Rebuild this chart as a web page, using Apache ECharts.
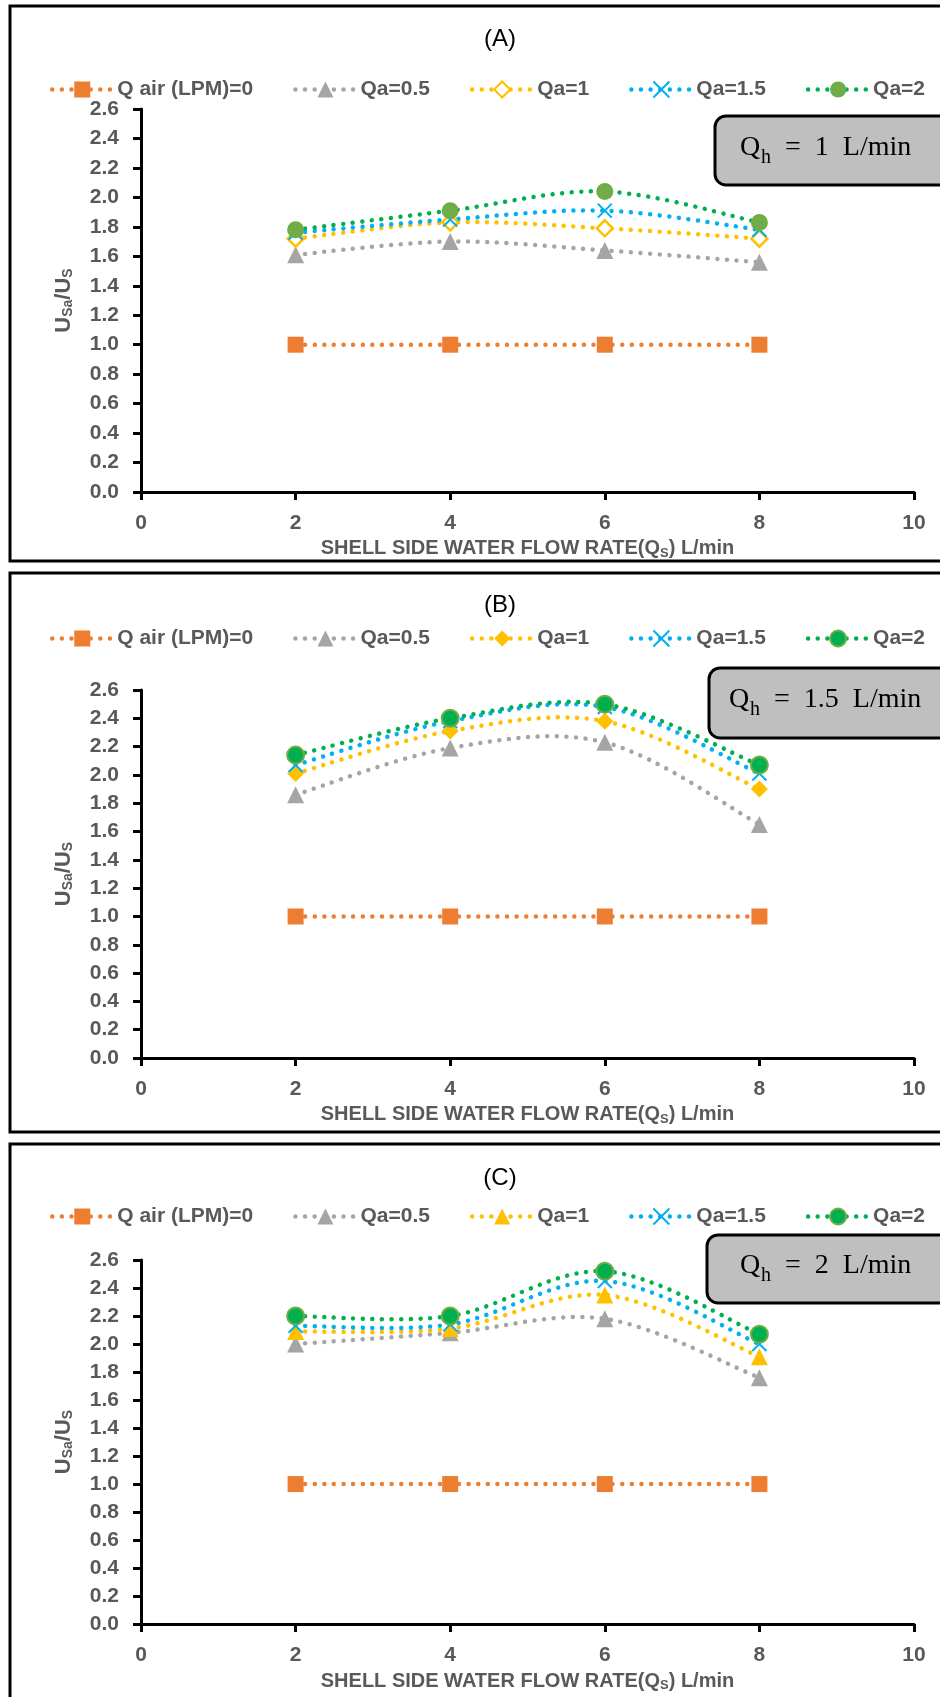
<!DOCTYPE html>
<html><head><meta charset="utf-8">
<script src="https://cdn.jsdelivr.net/npm/echarts@6/dist/echarts.min.js"></script>
<style>
html,body{margin:0;padding:0;background:#fff;width:940px;height:1697px;overflow:hidden}
.p{position:absolute;left:0;width:940px}
</style></head><body>
<div id="pa" class="p" style="top:0;height:567px"></div>
<div id="pb" class="p" style="top:567px;height:571px"></div>
<div id="pc" class="p" style="top:1138px;height:559px"></div>
<script>
// ---------- data ----------
const xValues = [2, 4, 6, 8];
const seriesNames = ['Q air (LPM)=0', 'Qa=0.5', 'Qa=1', 'Qa=1.5', 'Qa=2'];
const panelLabels = ['(A)', '(B)', '(C)'];
const boxLabels = ['1', '1.5', '2'];
const xAxisRange = [0, 10, 2];      // min, max, interval
const yAxisRange = [0, 2.6, 0.2];   // min, max, interval

// Panel A : Qh = 1 L/min
const qa0_A  = [1.00, 1.00, 1.00, 1.00];
const qa05_A = [1.61, 1.70, 1.64, 1.56];
const qa1_A  = [1.72, 1.83, 1.79, 1.72];
const qa15_A = [1.76, 1.85, 1.91, 1.78];
const qa2_A  = [1.78, 1.91, 2.04, 1.83];
// Panel B : Qh = 1.5 L/min
const qa0_B  = [1.00, 1.00, 1.00, 1.00];
const qa05_B = [1.86, 2.19, 2.23, 1.65];
const qa1_B  = [2.01, 2.31, 2.38, 1.90];
const qa15_B = [2.07, 2.38, 2.48, 2.01];
const qa2_B  = [2.14, 2.40, 2.50, 2.07];
// Panel C : Qh = 2 L/min
const qa0_C  = [1.00, 1.00, 1.00, 1.00];
const qa05_C = [2.00, 2.08, 2.18, 1.76];
const qa1_C  = [2.09, 2.11, 2.35, 1.91];
const qa15_C = [2.13, 2.14, 2.45, 2.00];
const qa2_C  = [2.20, 2.20, 2.52, 2.07];

// ---------- styling ----------
const FONT = '"Liberation Sans", Arial, sans-serif';
const SERIF = '"Liberation Serif", "DejaVu Serif", serif';
const GRAY_TXT = '#595959';
const C_OR = '#ED7D31', C_GR = '#A5A5A5', C_YE = '#FFC000', C_BL = '#00B0F0', C_GN = '#00B050', C_GN2 = '#70AD47';
const X_PATH = 'path://M0,0L10,10M10,0L0,10';
const LINE_W = 4.5, DASH = [0.01, 9.6];

// marker series (line itself hidden; the smoothed curve is drawn by a custom series)
function mk(name, vals, color, symbol, size, itemStyle) {
  return {
    name: name, type: 'line',
    data: xValues.map((x, i) => [x, vals[i]]),
    symbol: symbol, symbolSize: size, showSymbol: true,
    lineStyle: { color: color, width: LINE_W, type: DASH, cap: 'round', opacity: 0 },
    itemStyle: itemStyle,
    emphasis: { disabled: true },
    z: 3
  };
}

// Excel-like smoothed (Catmull-Rom) curve through the data points, positioned by the axes
function curve(vals, color) {
  const pts = xValues.map((x, i) => [x, vals[i]]);
  return {
    type: 'custom', silent: true, z: 2, clip: false,
    data: pts, encode: { x: 0, y: 1 },
    renderItem: function (params, api) {
      if (params.dataIndex !== 0) return null;
      const P = pts.map(p => api.coord(p));
      const n = P.length;
      let d = 'M' + P[0][0] + ',' + P[0][1];
      for (let i = 0; i < n - 1; i++) {
        const p0 = P[Math.max(i - 1, 0)], p1 = P[i], p2 = P[i + 1], p3 = P[Math.min(i + 2, n - 1)];
        const c1 = [p1[0] + (p2[0] - p0[0]) / 6, p1[1] + (p2[1] - p0[1]) / 6];
        const c2 = [p2[0] - (p3[0] - p1[0]) / 6, p2[1] - (p3[1] - p1[1]) / 6];
        d += ' C' + c1[0] + ',' + c1[1] + ' ' + c2[0] + ',' + c2[1] + ' ' + p2[0] + ',' + p2[1];
      }
      return {
        type: 'path', shape: { pathData: d },
        style: { fill: 'none', stroke: color, lineWidth: LINE_W, lineDash: DASH, lineCap: 'round' }
      };
    }
  };
}

function buildOption(p) {
  const cy = p.boxY + p.boxH / 2;
  return {
    animation: false,
    backgroundColor: 'transparent',
    legend: {
      data: seriesNames, left: 45, top: p.legendTop, width: 893,
      itemWidth: 60, itemHeight: 20, itemGap: 40,
      lineStyle: { opacity: 1, width: LINE_W, cap: 'round' },
      textStyle: { fontSize: 21, fontWeight: 'bold', color: GRAY_TXT, fontFamily: FONT },
      selectedMode: false
    },
    grid: { left: 141, right: 26, top: p.gridTop, bottom: p.gridBottom, containLabel: false },
    xAxis: {
      type: 'value', min: xAxisRange[0], max: xAxisRange[1], interval: xAxisRange[2],
      axisLine: { show: true, lineStyle: { color: '#000', width: 3 } },
      axisTick: { show: true, inside: false, length: 8, lineStyle: { color: '#000', width: 3 } },
      splitLine: { show: false },
      axisLabel: { fontSize: 21, fontWeight: 'bold', color: GRAY_TXT, fontFamily: FONT, margin: 21 },
      name: '{a|SHELL SIDE WATER FLOW RATE(Q}{b|S}{a|) L/min}',
      nameLocation: 'middle', nameGap: p.xNameGap,
      nameTextStyle: {
        rich: {
          a: { fontSize: 20, fontWeight: 'bold', color: GRAY_TXT, fontFamily: FONT, lineHeight: 22 },
          b: { fontSize: 13, fontWeight: 'bold', color: GRAY_TXT, fontFamily: FONT, lineHeight: 6, verticalAlign: 'bottom' }
        }
      }
    },
    yAxis: {
      type: 'value', min: yAxisRange[0], max: yAxisRange[1], interval: yAxisRange[2],
      axisLine: { show: true, lineStyle: { color: '#000', width: 3 } },
      axisTick: { show: true, inside: false, length: 8, lineStyle: { color: '#000', width: 3 } },
      splitLine: { show: false },
      axisLabel: { fontSize: 21, fontWeight: 'bold', color: GRAY_TXT, fontFamily: FONT, margin: 22,
        formatter: v => v.toFixed(1) },
      name: '{a|U}{b|Sa}{a|/U}{b|S}',
      nameLocation: 'middle', nameGap: 66, nameRotate: 90,
      nameTextStyle: {
        rich: {
          a: { fontSize: 22, fontWeight: 'bold', color: GRAY_TXT, fontFamily: FONT, lineHeight: 22 },
          b: { fontSize: 14, fontWeight: 'bold', color: GRAY_TXT, fontFamily: FONT, lineHeight: 6, verticalAlign: 'bottom' }
        }
      }
    },
    graphic: [
      { type: 'rect', silent: true, z: 0,
        shape: { x: 10, y: 6, width: 980, height: p.borderH },
        style: { fill: 'none', stroke: '#000', lineWidth: 3 } },
      { type: 'text', silent: true, x: 500, y: p.titleY,
        style: { text: p.label, fontSize: 24, fontFamily: FONT, fill: '#000', align: 'center', verticalAlign: 'middle' } },
      { type: 'rect', silent: true, z: 10,
        shape: { x: p.boxX, y: p.boxY, width: 300, height: p.boxH, r: 11 },
        style: { fill: '#BFBFBF', stroke: '#000', lineWidth: 3 } },
      { type: 'text', silent: true, z: 11, x: p.boxTextL, y: cy - 3,
        style: { text: 'Q', fontSize: 28, fontFamily: SERIF, fill: '#000', align: 'left', verticalAlign: 'middle' } },
      { type: 'text', silent: true, z: 11, x: p.boxTextL + 21, y: cy + 7,
        style: { text: 'h', fontSize: 20, fontFamily: SERIF, fill: '#000', align: 'left', verticalAlign: 'middle' } },
      { type: 'text', silent: true, z: 11, x: p.boxTextL + 45, y: cy - 3,
        style: { text: '=  ' + p.box + '  L/min', fontSize: 28, fontFamily: SERIF, fill: '#000', align: 'left', verticalAlign: 'middle' } }
    ],
    series: p.series
  };
}

function seriesSet(d, variant) {
  const colors = [C_OR, C_GR, C_YE, C_BL, C_GN];
  const s = [];
  s.push(mk(seriesNames[0], d[0], C_OR, 'rect', 16, { color: C_OR }));
  s.push(mk(seriesNames[1], d[1], C_GR, 'triangle', 17, { color: C_GR }));
  if (variant === 'A') {
    s.push(mk(seriesNames[2], d[2], C_YE, 'diamond', 16, { color: '#fff', borderColor: C_YE, borderWidth: 2.5 }));
  } else if (variant === 'B') {
    s.push(mk(seriesNames[2], d[2], C_YE, 'diamond', 17, { color: C_YE }));
  } else {
    s.push(mk(seriesNames[2], d[2], C_YE, 'triangle', 17, { color: C_YE }));
  }
  s.push(mk(seriesNames[3], d[3], C_BL, X_PATH, 14, { color: C_BL, borderColor: C_BL, borderWidth: 2 }));
  if (variant === 'A') {
    s.push(mk(seriesNames[4], d[4], C_GN, 'circle', 17, { color: C_GN2 }));
  } else {
    s.push(mk(seriesNames[4], d[4], C_GN, 'circle', 17, { color: C_GN, borderColor: C_GN2, borderWidth: 2 }));
  }
  d.forEach((vals, i) => s.push(curve(vals, colors[i])));
  return s;
}

const panels = [
  { id: 'pa', label: panelLabels[0], box: boxLabels[0], legendTop: 74, gridTop: 109, gridBottom: 75,
    xNameGap: 44, borderH: 555, titleY: 39, boxX: 715, boxY: 116, boxH: 69, boxTextL: 740,
    series: seriesSet([qa0_A, qa05_A, qa1_A, qa15_A, qa2_A], 'A') },
  { id: 'pb', label: panelLabels[1], box: boxLabels[1], legendTop: 56, gridTop: 123, gridBottom: 80,
    xNameGap: 42, borderH: 559, titleY: 38, boxX: 709, boxY: 101, boxH: 70, boxTextL: 729,
    series: seriesSet([qa0_B, qa05_B, qa1_B, qa15_B, qa2_B], 'B') },
  { id: 'pc', label: panelLabels[2], box: boxLabels[2], legendTop: 63, gridTop: 122, gridBottom: 69,
    xNameGap: 44, borderH: 700, titleY: 40, boxX: 707, boxY: 97, boxH: 68, boxTextL: 740,
    series: seriesSet([qa0_C, qa05_C, qa1_C, qa15_C, qa2_C], 'C') }
];

panels.forEach(p => {
  const chart = echarts.init(document.getElementById(p.id), null, { renderer: 'canvas' });
  chart.setOption(buildOption(p));
});
</script>
</body></html>
